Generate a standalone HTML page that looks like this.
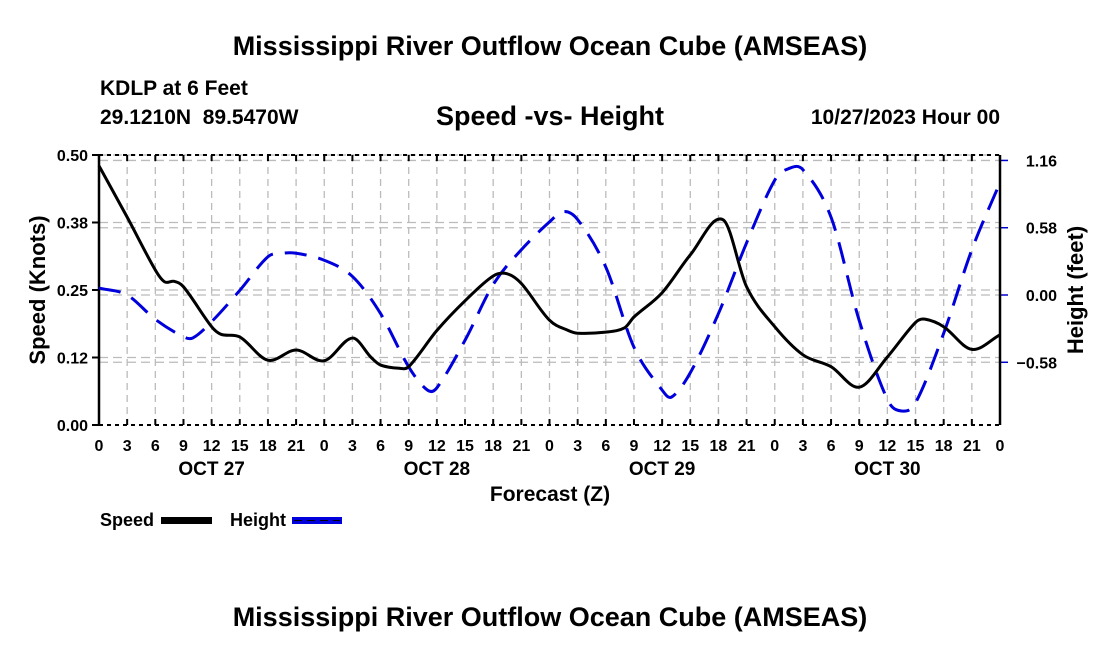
<!DOCTYPE html>
<html><head><meta charset="utf-8"><style>
body{margin:0;background:#fff;width:1100px;height:650px;overflow:hidden}
svg{display:block;font-family:"Liberation Sans",sans-serif;font-weight:bold}
</style></head><body>
<svg id="c" width="1100" height="650" viewBox="0 0 1100 650">
<text x="550" y="55" font-size="27" text-anchor="middle">Mississippi River Outflow Ocean Cube (AMSEAS)</text>
<text x="100" y="95" font-size="21">KDLP at 6 Feet</text>
<text x="100" y="124" font-size="21" xml:space="preserve">29.1210N  89.5470W</text>
<text x="550" y="125" font-size="27" text-anchor="middle">Speed -vs- Height</text>
<text x="1000" y="124" font-size="21" text-anchor="end">10/27/2023 Hour 00</text>
<g id="grid"></g>
<g id="axes"></g>
<g id="series"></g>
<text transform="translate(45,290) rotate(-90)" font-size="22" text-anchor="middle">Speed (Knots)</text>
<text transform="translate(1083,290) rotate(-90)" font-size="22" text-anchor="middle">Height (feet)</text>
<text x="550" y="501" font-size="21" text-anchor="middle">Forecast (Z)</text>
<g>
<text x="100" y="526" font-size="18">Speed</text>
<rect x="161" y="517" width="51" height="7" fill="#000"/></g>
<g>
<text x="230" y="526" font-size="18">Height</text>
<rect x="292" y="517" width="50" height="7" fill="#0000dd"/>
<line x1="294" y1="520.5" x2="340" y2="520.5" stroke="#000" stroke-width="1" stroke-dasharray="8,5"/></g>
<text x="550" y="626" font-size="27" text-anchor="middle">Mississippi River Outflow Ocean Cube (AMSEAS)</text>
</svg>
<script>
const speedHours=[0,3,6,7,8,9,12,13,15,18,21,24,27,29,30,32,33,36,39,42,43.5,45,48,50,51,54,56,57,60,63,66.5,69,72,75,78,81,84,87,88,90,93,96];
const speedValues=[0.48,0.385,0.287,0.265,0.266,0.256,0.182,0.168,0.163,0.12,0.139,0.119,0.161,0.125,0.111,0.105,0.108,0.175,0.23,0.276,0.28,0.262,0.194,0.175,0.17,0.172,0.18,0.2,0.245,0.315,0.38,0.256,0.182,0.13,0.108,0.07,0.126,0.19,0.196,0.182,0.14,0.167];
const heightHours=[0,3,6,9,10,12,15,18,19.5,21,24,27,30,33,35,36,39,42,45,48,49.5,51,54,57,60,61,63,66,69,72,73.5,75,78,81,84,85.5,87,90,93,96];
const heightValues=[0.06,0.0,-0.21,-0.36,-0.37,-0.23,0.04,0.33,0.36,0.36,0.30,0.16,-0.16,-0.62,-0.82,-0.80,-0.39,0.09,0.39,0.63,0.72,0.65,0.24,-0.45,-0.82,-0.88,-0.67,-0.16,0.45,0.99,1.09,1.08,0.67,-0.22,-0.9,-1.0,-0.93,-0.33,0.39,0.97];
const xTickLabels=["0","3","6","9","12","15","18","21","0","3","6","9","12","15","18","21","0","3","6","9","12","15","18","21","0","3","6","9","12","15","18","21","0"];
const dayLabels=["OCT 27","OCT 28","OCT 29","OCT 30"];
const leftTicks=[0,0.125,0.25,0.375,0.5];
const leftTickLabels=["0.00","0.12","0.25","0.38","0.50"];
const rightTicks=[-0.58,0,0.58,1.16];
const rightTickLabels=["\u22120.58","0.00","0.58","1.16"];
const X0=99,X1=1000,YT=155,YB=425;
const xs=h=>X0+h*(X1-X0)/96;
const yS=v=>YB-v*(YB-YT)/0.5;
const yH=v=>295-v*116;
const NS="http://www.w3.org/2000/svg";
function mk(p,tag,a){const e=document.createElementNS(NS,tag);for(const k in a)e.setAttribute(k,a[k]);p.appendChild(e);return e;}
const grid=document.getElementById('grid'),axes=document.getElementById('axes'),ser=document.getElementById('series');
for(let i=0;i<xTickLabels.length;i++){
 const x=xs(i*3);
 if(i>0&&i<xTickLabels.length-1){const g=mk(grid,'line',{x1:x,x2:x,y1:YT,y2:YB,stroke:'#bbb','stroke-width':1.3,'stroke-dasharray':'7,5'});
 
 }
 mk(axes,'line',{x1:x,x2:x,y1:YB,y2:YB-6,stroke:'#000','stroke-width':2});
 mk(axes,'line',{x1:x,x2:x,y1:YT,y2:YT+6,stroke:'#000','stroke-width':2});
 const t=mk(axes,'text',{x:x,y:451,'font-size':16,'text-anchor':'middle'});t.textContent=xTickLabels[i];
 
 
}
dayLabels.forEach((d,i)=>{const t=mk(axes,'text',{x:xs(12+24*i),y:475,'font-size':19,'text-anchor':'middle'});t.textContent=d;
 
 });
leftTicks.forEach((v,i)=>{const y=yS(v);
 if(v>0){const g=mk(grid,'line',{x1:X0,x2:X1,y1:y,y2:y,stroke:'#bbb','stroke-width':1.3,'stroke-dasharray':'9,5'});
 
 }
 mk(axes,'line',{x1:X0-7,x2:X0,y1:y,y2:y,stroke:'#000','stroke-width':2});
 const t=mk(axes,'text',{x:88,y:y+6,'font-size':16,'text-anchor':'end'});t.textContent=leftTickLabels[i];
 
 });
rightTicks.forEach((v,i)=>{const y=yH(v);
 const g=mk(grid,'line',{x1:X0,x2:X1,y1:y,y2:y,stroke:'#bbb','stroke-width':1.3,'stroke-dasharray':'9,5'});
 
 
 mk(axes,'line',{x1:X1,x2:X1+8,y1:y,y2:y,stroke:'#0000cc','stroke-width':1.5});
 const t=mk(axes,'text',{x:1057,y:y+6,'font-size':16,'text-anchor':'end'});t.textContent=rightTickLabels[i];
 
 });
mk(axes,'line',{x1:X0,x2:X0,y1:YT,y2:YB,stroke:'#000','stroke-width':2.5});
mk(axes,'line',{x1:X1,x2:X1,y1:YT,y2:YB,stroke:'#000','stroke-width':2.5});
mk(axes,'line',{x1:X0,x2:X1,y1:YT,y2:YT,stroke:'#000','stroke-width':2,'stroke-dasharray':'4,4'});
mk(axes,'line',{x1:X0,x2:X1,y1:YB,y2:YB,stroke:'#000','stroke-width':2,'stroke-dasharray':'4,4'});
function path(hs,vs,fy){const p=hs.map((h,i)=>[xs(h),fy(vs[i])]);const n=p.length;
 const m=p.map((q,i)=>{const a=p[Math.max(0,i-1)],b=p[Math.min(n-1,i+1)];return (b[1]-a[1])/(b[0]-a[0]);});
 let d='M'+p[0][0]+','+p[0][1];
 for(let i=0;i<n-1;i++){const b=p[i],c=p[i+1],dx=(c[0]-b[0])/3;
 d+=' C'+(b[0]+dx)+','+(b[1]+m[i]*dx)+' '+(c[0]-dx)+','+(c[1]-m[i+1]*dx)+' '+c[0]+','+c[1];}
 return d;}
const hp=mk(ser,'path',{d:path(heightHours,heightValues,yH),fill:'none',stroke:'#0000dd','stroke-width':3,'stroke-dasharray':'22,12'});


const sp=mk(ser,'path',{d:path(speedHours,speedValues,yS),fill:'none',stroke:'#000','stroke-width':3});


</script>
</body></html>
